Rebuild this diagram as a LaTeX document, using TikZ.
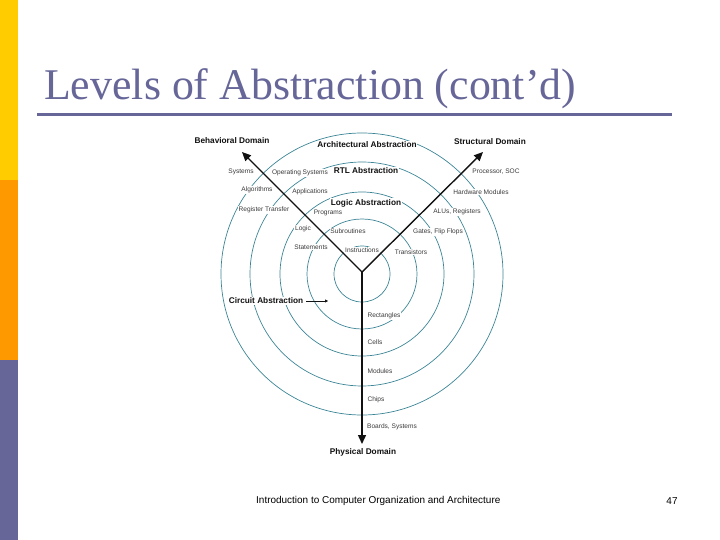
\documentclass[tikz,border=0pt]{standalone}
\usepackage{fontspec}
\setmainfont{Liberation Serif}
\setsansfont{Liberation Sans}
\usetikzlibrary{arrows.meta}
\definecolor{Gold}{HTML}{FFCC00}
\definecolor{Amber}{HTML}{FF9900}
\definecolor{Slate}{HTML}{666699}
\definecolor{Ring}{HTML}{3C8596}
\definecolor{Ink}{HTML}{111111}
\definecolor{Mute}{HTML}{3A3A3A}

\begin{document}
\begin{tikzpicture}[x=1bp,y=-1bp,
  lab/.style={font=\sffamily\fontsize{6.6}{7}\selectfont,text=Mute,fill=white,inner sep=0.8bp},
  dom/.style={font=\sffamily\bfseries\fontsize{8.3}{9}\selectfont,text=Ink,fill=white,inner sep=0.8bp},
  axis/.style={draw=Ink,line width=1.4bp,-{Triangle[length=9bp,width=8bp]}},
  pointer/.style={draw=Ink,line width=0.5bp,-{Triangle[length=3bp,width=3bp]}}]
  \useasboundingbox (0,0) rectangle (720,540);
  % side bar
  \fill[Gold]  (0,0)   rectangle (18,180);
  \fill[Amber] (0,180) rectangle (18,360);
  \fill[Slate] (0,360) rectangle (18,540);
  % title
  \node[font=\fontsize{44}{48}\selectfont,text=Slate,anchor=base west,inner sep=0pt]
    (title) at (44,100) {Levels of Abstraction (cont’d)};
  \draw[Slate,line width=3bp] (37,115) -- (672,115);
  % rings
  \coordinate (core) at (362,274);
  \foreach \r in {28,55,82,112,141}
    \draw[Ring,line width=0.7bp] (core) circle[radius=\r];
  % abstraction levels
  \node[dom] (arch)    at (367,145) {Architectural Abstraction};
  \node[dom] (rtl)     at (366,171) {RTL Abstraction};
  \node[dom] (logic)   at (366,203) {Logic Abstraction};
  \node[dom] (circuit) at (266,301) {Circuit Abstraction};
  \coordinate (circuitend) at (328,301);
  \draw[pointer,shorten <=2bp] (circuit.east) -- (circuitend);
  % items per ring
  \foreach \i/\x/\y/\txt in {
    1/241/172/Systems, 2/257/190/Algorithms, 3/264/210/Register Transfer,
    4/303/229/Logic, 5/311/247/Statements} {
    \node[lab] (b\i) at (\x,\y) {\txt};
  }
  \foreach \i/\x/\y/\txt in {
    1/300/173/Operating Systems, 2/310/192/Applications, 3/328/213/Programs,
    4/348/231/Subroutines, 5/362/250/Instructions} {
    \node[lab] (m\i) at (\x,\y) {\txt};
  }
  \foreach \i/\x/\y/\txt in {
    1/496/172/{Processor, SOC}, 2/481/192/Hardware Modules,
    3/457/212/{ALUs, Registers}, 4/438/232/{Gates, Flip Flops},
    5/411/252/Transistors} {
    \node[lab] (s\i) at (\x,\y) {\txt};
  }
  \foreach \i/\x/\y/\txt in {
    1/384/316/Rectangles, 2/375/342/Cells, 3/380/371/Modules,
    4/376/400/Chips, 5/392/427/{Boards, Systems}} {
    \node[lab] (p\i) at (\x,\y) {\txt};
  }
  % domain axes
  \coordinate (hub)    at (362,272);
  \coordinate (behav)  at (242,152);
  \coordinate (struct) at (483,152);
  \coordinate (phys)   at (362,444);
  \draw[axis] (hub) -- (behav);
  \draw[axis] (hub) -- (struct);
  \draw[axis] (hub) -- (phys);
  \node[dom] (behavioral) at (232,141) {Behavioral Domain};
  \node[dom] (structural) at (490,142) {Structural Domain};
  \node[dom] (physical)   at (363,452) {Physical Domain};
  % footer
  \node[font=\sffamily\fontsize{10}{12}\selectfont,anchor=west,inner sep=0pt]
    (footer) at (256,501) {Introduction to Computer Organization and Architecture};
  \node[font=\sffamily\fontsize{10}{12}\selectfont,inner sep=0pt] (page) at (672,501) {47};
\end{tikzpicture}
\end{document}
